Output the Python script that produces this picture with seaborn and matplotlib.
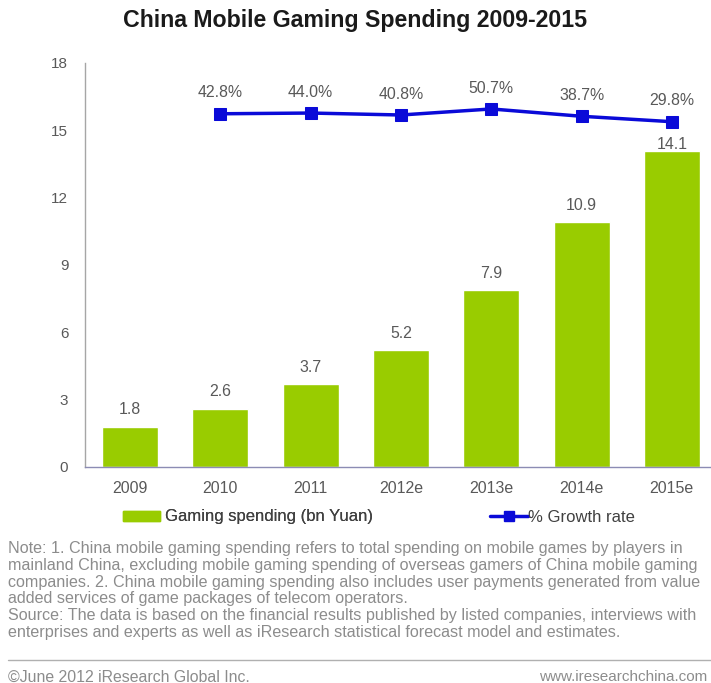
import numpy as np
import pandas as pd
import matplotlib
matplotlib.use("Agg")
import matplotlib.pyplot as plt
from matplotlib.patches import Patch
from matplotlib.lines import Line2D
import seaborn as sns

years = ["2009", "2010", "2011", "2012e", "2013e", "2014e", "2015e"]
spending = [1.8, 2.6, 3.7, 5.2, 7.9, 10.9, 14.1]
growth_years = ["2010", "2011", "2012e", "2013e", "2014e", "2015e"]
growth = [42.8, 44.0, 40.8, 50.7, 38.7, 29.8]
y_ticks = [0, 3, 6, 9, 12, 15, 18]

title = "China Mobile Gaming Spending 2009-2015"
bar_label = "Gaming spending (bn Yuan)"
line_label = "% Growth rate"
notes = [
    "Note: 1. China mobile gaming spending refers to total spending on mobile games by players in",
    "mainland China, excluding mobile gaming spending of overseas gamers of China mobile gaming",
    "companies. 2. China mobile gaming spending also includes user payments generated from value",
    "added services of game packages of telecom operators.",
    "Source: The data is based on the financial results published by listed companies, interviews with",
    "enterprises and experts as well as iResearch statistical forecast model and estimates.",
]
footer_left = "\u00a9June 2012 iResearch Global Inc."
footer_right = "www.iresearchchina.com"

sns.set_theme(style="white")
plt.rcParams["font.family"] = ["Liberation Sans", "DejaVu Sans"]

GREEN = "#99cc00"
BLUE = "#0a0ad8"
TXT = "#595959"
NOTE = "#8c8c8c"

W, H = 711, 683
fig = plt.figure(figsize=(W / 100, H / 100), dpi=100)
fig.patch.set_facecolor("white")

ax = fig.add_axes([85 / W, 1 - 467 / H, 632 / W, 404 / H])
df = pd.DataFrame({"year": years, "spending": spending})
sns.barplot(data=df, x="year", y="spending", color=GREEN, saturation=1,
            width=0.62, ax=ax, order=years)
ax.set_ylim(0, 18)
ax.set_xlim(-0.5, 6.5)
ax.set_yticks(y_ticks)
ax.set_yticklabels([str(t) for t in y_ticks])
ax.set_xlabel("")
ax.set_ylabel("")
ax.tick_params(axis="both", length=0, labelcolor=TXT)
ax.tick_params(axis="y", pad=12, labelsize=11)
ax.tick_params(axis="x", pad=10, labelsize=11.5)
for s in ["top", "right"]:
    ax.spines[s].set_visible(False)
ax.spines["left"].set_color("#a6a6a6")
ax.spines["bottom"].set_color("#8c8cb4")
ax.spines["left"].set_linewidth(1.0)
ax.spines["bottom"].set_linewidth(1.0)

for i, v in enumerate(spending):
    off = 4 if i == len(spending) - 1 else 12
    ax.annotate(f"{v:.1f}", (i, v), xytext=(0, off), textcoords="offset points",
                ha="center", va="center", fontsize=11.4, color=TXT)

# growth rate on a hidden secondary scale
ax2 = ax.twinx()
gx = [years.index(y) for y in growth_years]
gdf = pd.DataFrame({"pos": gx, "growth": growth})
sns.lineplot(data=gdf, x="pos", y="growth", ax=ax2, color=BLUE, lw=2.5,
             marker="s", markersize=8, markeredgecolor=BLUE, sort=False)
ax2.set_ylim(-536, 126)
ax2.set_xlim(-0.5, 6.5)
ax2.axis("off")
for x, v in zip(gx, growth):
    ax2.annotate(f"{v:.1f}%", (x, v), xytext=(0, 15), textcoords="offset points",
                 ha="center", va="center", fontsize=11.4, color=TXT)

fig.text(355 / W, 1 - 21 / H, title, ha="center", va="center",
         fontsize=16.7, fontweight="bold", color="#1a1a1a")

# legend entries
leg1 = fig.legend(handles=[Patch(facecolor=GREEN, edgecolor=GREEN)], labels=[bar_label],
                  loc="center left", bbox_to_anchor=(123 / W, 1 - 517 / H), frameon=False,
                  fontsize=12, handlelength=2.2, handleheight=0.55, handletextpad=0.3,
                  borderpad=0, borderaxespad=0, labelcolor="#404040")
leg2 = fig.legend(handles=[Line2D([], [], color=BLUE, lw=2.5, marker="s", markersize=7)],
                  labels=[line_label], loc="center left",
                  bbox_to_anchor=(490 / W, 1 - 517 / H), frameon=False, fontsize=12,
                  handlelength=2.3, handletextpad=0.0, borderpad=0, borderaxespad=0,
                  labelcolor="#404040")
fig.add_artist(leg1)

for k, line in enumerate(notes):
    fig.text(8 / W, 1 - (549 + k * 16.6) / H, line, ha="left", va="center",
             fontsize=11.6, color=NOTE)

fig.add_artist(Line2D([8 / W, 1.0], [1 - 660 / H, 1 - 660 / H], color="#b0b0b0", lw=1))
fig.text(8 / W, 1 - 677 / H, footer_left, ha="left", va="center", fontsize=11.4, color=NOTE)
fig.text(707 / W, 1 - 677 / H, footer_right, ha="right", va="center", fontsize=11, color=NOTE)

fig.savefig("out.png", dpi=100, facecolor="white")
